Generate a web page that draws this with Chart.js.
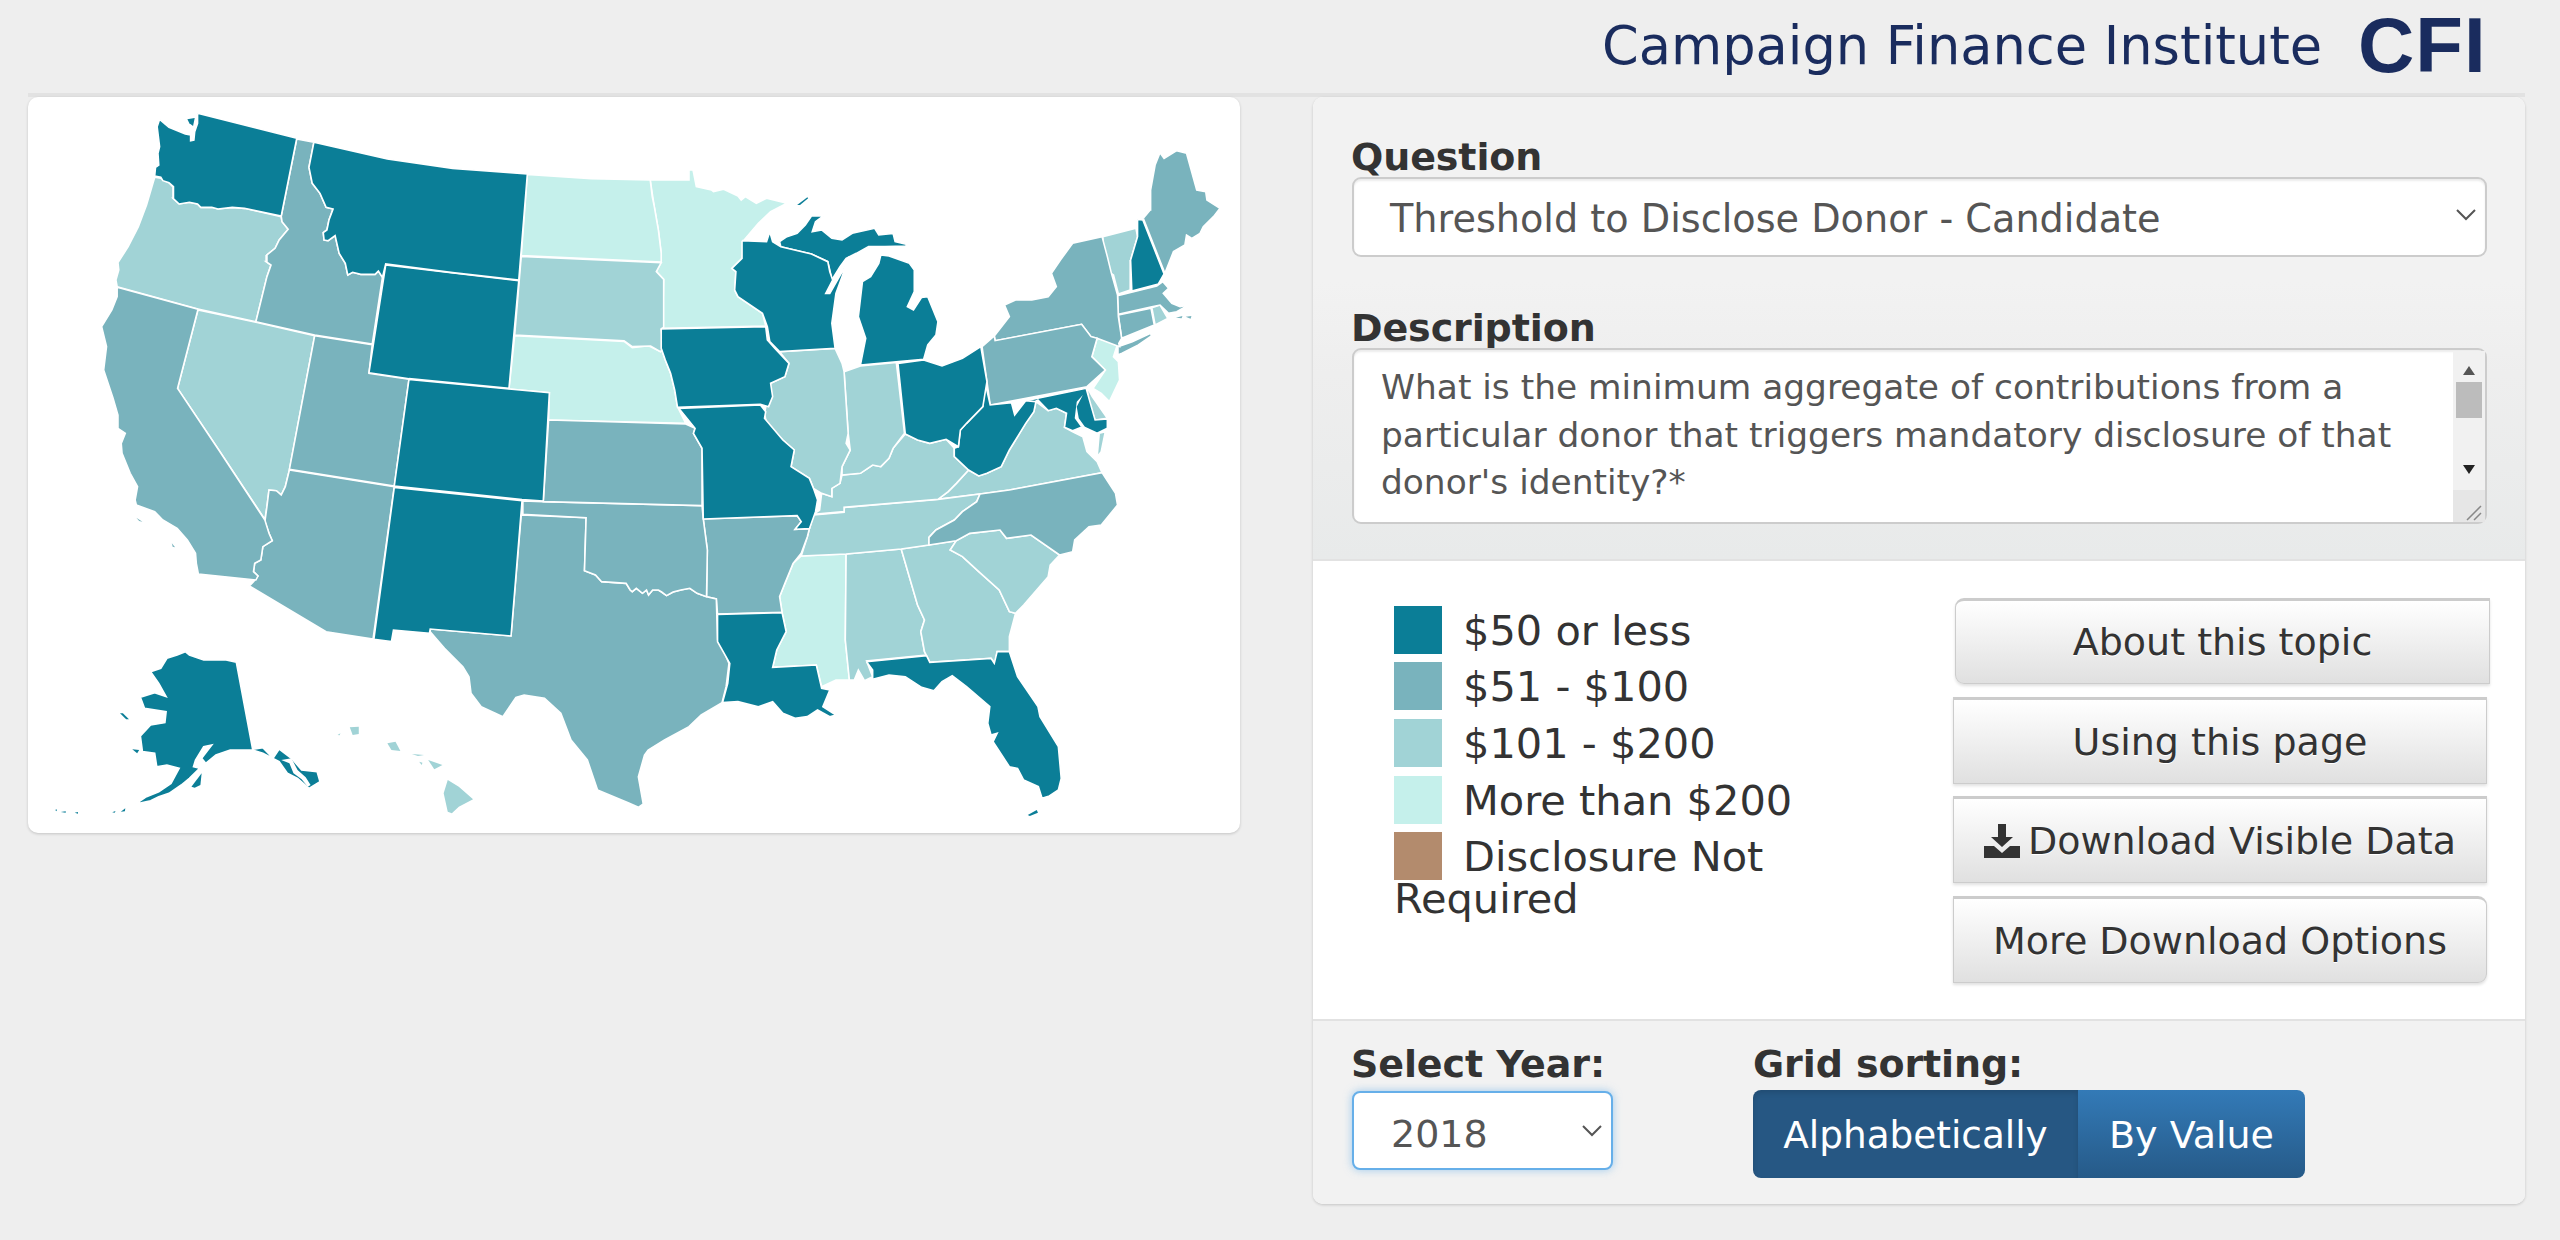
<!DOCTYPE html>
<html><head><meta charset="utf-8">
<script src="https://cdn.jsdelivr.net/npm/chart.js@4"></script>
<style>
html,body{margin:0;padding:0;background:#eee;width:2560px;height:1240px;overflow:hidden;font-family:"DejaVu Sans",sans-serif;color:#333}
.a{position:absolute;box-sizing:border-box;white-space:nowrap}
.lbl{font-weight:bold;font-size:38px;line-height:40px;color:#333;letter-spacing:-.1px}
.btn{background:linear-gradient(#fff,#e0e0e0);border:1px solid #ccc;border-top:3px solid #ccc;box-shadow:0 2px 3px rgba(0,0,0,.12);font-size:38px;color:#333;display:flex;align-items:center;justify-content:center;text-shadow:0 1px 0 #fff}
.sw{left:1394px;width:48px;height:48px}
.lg{left:1463px;font-size:41.5px;line-height:44px;color:#333}
</style></head><body>
<div class="a" style="left:28px;top:93px;width:2497px;height:4px;background:#e2e2e2"></div>
<div class="a" style="left:1602px;top:15px;font-size:52.6px;line-height:62px;color:#1a2c5e" id="title">Campaign Finance Institute</div>
<div class="a" style="left:2358px;top:3px;font-size:78px;line-height:84px;font-weight:bold;color:#1a2c5e;font-family:'Liberation Sans';letter-spacing:1px;transform-origin:0 0">CFI</div>

<div class="a" style="left:28px;top:97px;width:1212px;height:736px;background:#fff;border-radius:10px;box-shadow:0 1px 3px rgba(0,0,0,.18)">
<canvas id="map" width="1212" height="736" style="display:block;width:1212px;height:736px"></canvas></div>

<div class="a" style="left:1313px;top:97px;width:1212px;height:1107px;background:#fff;border-radius:10px;box-shadow:0 1px 3px rgba(0,0,0,.18);overflow:hidden">
<div class="a" style="left:0;top:0;width:100%;height:464px;background:linear-gradient(#f2f2f2 0,#f2f2f2 40%,#eeeeee 60%,#e8eaea 100%);border-bottom:2px solid #e2e2e2"></div>
<div class="a" style="left:0;top:922px;width:100%;height:185px;background:#f2f2f2;border-top:2px solid #e2e2e2"></div>
</div>

<div class="a lbl" style="left:1351px;top:137px">Question</div>
<div class="a" style="left:1352px;top:177px;width:1135px;height:80px;background:#fff;border:2px solid #ccc;border-radius:9px;box-shadow:inset 0 2px 2px rgba(0,0,0,.08)"></div>
<div class="a" style="left:1390px;top:199px;font-size:38.2px;line-height:40px;color:#555">Threshold to Disclose Donor - Candidate</div>
<svg class="a" style="left:2456px;top:209px" width="20" height="12"><path d="M1 1L10 10L19 1" fill="none" stroke="#555" stroke-width="2"/></svg>

<div class="a lbl" style="left:1351px;top:308px">Description</div>
<div class="a" style="left:1352px;top:348px;width:1135px;height:176px;background:#fff;border:2px solid #ccc;border-radius:9px;box-shadow:inset 0 2px 2px rgba(0,0,0,.08)"></div>
<div class="a" style="left:1381px;top:364px;font-size:34.4px;line-height:47.6px;color:#555">What is the minimum aggregate of contributions from a<br>particular donor that triggers mandatory disclosure of that<br>donor's identity?*</div>
<div class="a" style="left:2453px;top:351px;width:32px;height:139px;background:#f1f1f1"></div>
<div class="a" style="left:2456px;top:382px;width:26px;height:36px;background:#bcbcbc"></div>
<svg class="a" style="left:2453px;top:360px" width="32" height="120"><path d="M10 15L16 6L22 15Z" fill="#555"/><path d="M10 105L22 105L16 114Z" fill="#222"/></svg>
<div class="a" style="left:2453px;top:490px;width:32px;height:32px;background:#e6e6e6"></div>
<svg class="a" style="left:2465px;top:505px" width="18" height="16"><path d="M2 15L16 1M9 15L16 8" stroke="#888" stroke-width="1.5" fill="none"/></svg>

<div class="a sw" style="top:606px;background:#0b7e97"></div><div class="a lg" style="top:609px">$50 or less</div>
<div class="a sw" style="top:662px;background:#79b3bd"></div><div class="a lg" style="top:665px">$51 - $100</div>
<div class="a sw" style="top:719px;background:#a1d3d6"></div><div class="a lg" style="top:722px">$101 - $200</div>
<div class="a sw" style="top:776px;background:#c5f0eb"></div><div class="a lg" style="top:779px">More than $200</div>
<div class="a sw" style="top:832px;background:#b38b6d"></div><div class="a lg" style="top:835px">Disclosure Not</div>
<div class="a lg" style="left:1394px;top:877px">Required</div>

<div class="a btn" style="left:1955px;top:598px;width:535px;height:86px;border-radius:9px 0 0 9px">About this topic</div>
<div class="a btn" style="left:1953px;top:697px;width:534px;height:87px">Using this page</div>
<div class="a btn" style="left:1953px;top:796px;width:534px;height:87px"><svg width="36" height="34" viewBox="0 0 36 34" style="margin-right:8px"><path d="M14 0H22V13H29L18 23L7 13H14Z M0 22H10L18 29L26 22H36V34H0Z" fill="#333"/></svg>Download Visible Data</div>
<div class="a btn" style="left:1953px;top:896px;width:534px;height:87px;border-radius:0 9px 9px 0">More Download Options</div>

<div class="a lbl" style="left:1351px;top:1044px">Select Year:</div>
<div class="a lbl" style="left:1753px;top:1044px">Grid sorting:</div>
<div class="a" style="left:1352px;top:1091px;width:261px;height:79px;background:#fff;border:2px solid #66afe9;border-radius:8px;box-shadow:0 0 9px rgba(102,175,233,.6)"></div>
<div class="a" style="left:1391px;top:1114px;font-size:38px;line-height:40px;color:#555">2018</div>
<svg class="a" style="left:1582px;top:1125px" width="20" height="12"><path d="M1 1L10 10L19 1" fill="none" stroke="#555" stroke-width="2"/></svg>
<div class="a" style="left:1753px;top:1090px;width:325px;height:88px;padding-top:2px;background:#265783;border-radius:8px 0 0 8px;color:#fff;font-size:37.4px;display:flex;align-items:center;justify-content:center;box-shadow:inset 0 3px 5px rgba(0,0,0,.12)">Alphabetically</div>
<div class="a" style="left:2078px;top:1090px;width:227px;height:88px;padding-top:2px;background:linear-gradient(#337ab7,#265a88);border-radius:0 8px 8px 0;color:#fff;font-size:38px;display:flex;align-items:center;justify-content:center">By Value</div>

<script>
// Map units: polygon vertices.
const redRiver=[[1495,1500],[1500,1505],[1510,1495],[1525,1510],[1535,1500],[1540,1515],[1550,1500],[1564,1500],[1572,1506],[1584,1517],[1600,1506],[1619,1500],[1641,1495],[1659,1510],[1682,1520]];
const WA=[[435,70],[678,145],[640,378],[550,355],[520,352],[485,357],[470,352],[443,352],[435,342],[415,337],[390,342],[375,325],[376,290],[365,278],[350,272],[345,262],[330,258],[332,232],[340,225],[338,190],[342,170],[336,110],[342,88],[365,112],[405,132],[418,135],[418,152],[426,150],[428,125],[435,100]];
const WAi=[[410,88],[428,84],[424,108],[415,100]];
const OR=[[330,262],[345,265],[365,278],[376,292],[375,325],[390,342],[415,337],[435,342],[443,352],[470,352],[485,357],[520,352],[550,355],[640,380],[642,395],[657,418],[635,450],[625,475],[605,495],[603,515],[615,525],[605,560],[578,695],[436,657],[238,590],[235,570],[242,540],[240,518],[265,470],[290,410],[310,345]];
const ID=[[678,147],[720,157],[708,232],[716,280],[735,310],[750,352],[767,357],[757,390],[752,420],[743,428],[745,450],[755,452],[772,437],[782,490],[797,520],[803,555],[815,547],[835,553],[870,553],[878,543],[888,562],[863,762],[722,735],[578,695],[605,560],[615,525],[603,515],[605,495],[625,475],[635,450],[657,418],[642,395],[640,378]];
const MT=[[720,157],[900,207],[1060,235],[1243,252],[1222,570],[1060,548],[896,522],[888,562],[878,543],[870,553],[835,553],[815,547],[803,555],[797,520],[782,490],[772,437],[755,452],[745,450],[743,428],[752,420],[757,390],[767,357],[750,352],[735,310],[716,280],[708,232]];
const WY=[[896,525],[1222,572],[1198,895],[953,866],[855,848]];
const ND=[[1243,253],[1400,266],[1544,270],[1549,320],[1554,350],[1564,420],[1571,490],[1571,516],[1228,497]];
const SD=[[1228,499],[1571,518],[1559,545],[1577,568],[1577,712],[1571,716],[1576,775],[1569,785],[1545,768],[1500,770],[1480,752],[1212,735]];
const NE=[[1212,737],[1480,754],[1500,773],[1540,767],[1569,785],[1571,775],[1581,810],[1594,850],[1604,900],[1611,950],[1631,1000],[1295,990],[1297,908],[1198,897]];
const KS=[[1295,990],[1631,1002],[1654,1015],[1650,1030],[1671,1075],[1671,1247],[1282,1235]];
const CO=[[953,868],[1198,897],[1297,908],[1282,1233],[1230,1229],[917,1188]];
const UT=[[722,737],[863,764],[855,850],[953,868],[917,1188],[660,1138]];
const NV=[[436,660],[578,697],[722,737],[660,1140],[650,1190],[640,1215],[628,1202],[610,1200],[605,1250],[600,1288],[487,1080],[386,895]];
const CA=[[238,592],[436,658],[386,895],[487,1080],[600,1290],[610,1330],[618,1352],[595,1370],[590,1410],[575,1420],[572,1445],[583,1458],[578,1470],[437,1452],[432,1420],[430,1390],[410,1350],[385,1315],[350,1290],[330,1265],[285,1245],[282,1230],[288,1190],[270,1150],[250,1090],[248,1060],[258,1030],[240,1015],[240,975],[228,925],[205,840],[212,770],[200,710],[225,660],[238,620]];
const CAa=[[285,1283],[300,1295],[292,1293]];
const CAb=[[372,1360],[380,1372],[374,1370]];
const AZ=[[660,1140],[917,1190],[865,1647],[750,1625],[562,1488],[572,1475],[583,1458],[572,1445],[575,1420],[590,1410],[595,1370],[618,1352],[610,1330],[600,1295],[605,1250],[610,1200],[628,1202],[640,1215],[650,1190]];
const NM=[[917,1192],[1230,1232],[1203,1638],[1005,1617],[1003,1630],[915,1620],[910,1655],[867,1648]];
const OK=[[1232,1233],[1282,1235],[1671,1247],[1674,1287],[1684,1380],...redRiver.slice().reverse(),[1485,1480],[1425,1475],[1410,1455],[1383,1442],[1387,1283],[1230,1273]];
const TX=[[1228,1275],[1387,1283],[1383,1442],[1410,1455],[1425,1475],[1485,1480],...redRiver,[1706,1527],[1709,1650],[1720,1670],[1737,1720],[1730,1790],[1720,1838],[1669,1875],[1639,1910],[1579,1950],[1539,1980],[1530,1995],[1515,2060],[1527,2142],[1515,2152],[1490,2138],[1415,2100],[1390,2010],[1350,1950],[1325,1870],[1285,1825],[1235,1815],[1215,1822],[1205,1840],[1183,1880],[1130,1850],[1105,1810],[1100,1760],[1085,1730],[1040,1675],[1005,1625],[1005,1617],[1203,1638]];
const LA=[[1709,1573],[1867,1568],[1877,1625],[1854,1680],[1844,1732],[1951,1725],[1964,1795],[1984,1800],[1967,1850],[1999,1875],[1984,1880],[1954,1860],[1929,1880],[1899,1885],[1869,1870],[1844,1835],[1809,1850],[1759,1835],[1721,1838],[1734,1780],[1739,1720],[1709,1655]];
const AR=[[1674,1287],[1904,1277],[1914,1295],[1899,1318],[1934,1316],[1929,1340],[1914,1390],[1894,1420],[1874,1480],[1861,1520],[1867,1567],[1709,1572],[1706,1527],[1682,1520],[1684,1380]];
const MS=[[1914,1398],[2024,1392],[2022,1650],[2032,1770],[1999,1770],[1964,1790],[1951,1725],[1844,1732],[1854,1680],[1877,1625],[1867,1567],[1861,1520],[1874,1480],[1894,1420]];
const AL=[[2024,1392],[2159,1377],[2199,1545],[2216,1590],[2207,1625],[2216,1685],[2221,1695],[2074,1713],[2089,1760],[2069,1772],[2054,1740],[2044,1770],[2032,1770],[2022,1650]];
const GA=[[2159,1377],[2294,1352],[2279,1380],[2309,1400],[2349,1445],[2399,1500],[2424,1565],[2439,1570],[2424,1640],[2424,1685],[2394,1685],[2389,1720],[2379,1705],[2229,1717],[2216,1685],[2207,1625],[2216,1590],[2199,1545]];
const FL=[[2074,1715],[2221,1697],[2229,1717],[2379,1705],[2387,1720],[2394,1685],[2424,1685],[2444,1760],[2494,1850],[2499,1880],[2544,1970],[2551,2065],[2544,2100],[2522,2118],[2504,2125],[2495,2090],[2459,2070],[2444,2035],[2424,2030],[2384,1955],[2394,1930],[2379,1935],[2371,1900],[2376,1850],[2319,1790],[2284,1757],[2259,1775],[2239,1802],[2209,1792],[2169,1760],[2129,1755],[2089,1768],[2089,1740]];
const FLk=[[2469,2175],[2491,2160],[2494,2168],[2474,2178]];
const SC=[[2294,1352],[2327,1330],[2401,1320],[2417,1345],[2477,1335],[2547,1395],[2524,1425],[2519,1460],[2459,1545],[2439,1570],[2424,1565],[2399,1500],[2349,1445],[2309,1400],[2279,1380]];
const NC=[[2352,1212],[2424,1200],[2651,1148],[2684,1210],[2689,1245],[2649,1305],[2619,1310],[2584,1350],[2579,1385],[2547,1395],[2477,1335],[2417,1345],[2401,1320],[2327,1330],[2294,1352],[2227,1365],[2227,1342],[2244,1320],[2289,1290],[2309,1265],[2344,1235]];
const TN=[[1944,1275],[2019,1267],[2019,1252],[2249,1228],[2352,1212],[2344,1235],[2309,1265],[2289,1290],[2244,1320],[2227,1342],[2227,1365],[2159,1377],[2024,1392],[1914,1398],[1929,1340],[1934,1316]];
const KY=[[1944,1273],[2019,1265],[2019,1252],[2249,1228],[2274,1205],[2294,1180],[2324,1140],[2289,1100],[2289,1075],[2269,1048],[2229,1060],[2199,1050],[2169,1032],[2139,1075],[2129,1105],[2109,1130],[2089,1125],[2059,1150],[2014,1155],[2009,1180],[1989,1195],[1989,1220],[1964,1210],[1959,1260]];
const IL=[[1861,785],[1997,775],[2014,820],[2019,845],[2029,1030],[2024,1060],[2034,1080],[2014,1130],[2009,1180],[1989,1195],[1989,1220],[1964,1210],[1944,1195],[1934,1165],[1889,1130],[1897,1080],[1869,1050],[1829,1000],[1824,970],[1839,880],[1874,860],[1884,820]];
const IN=[[2019,845],[2059,828],[2147,817],[2167,1030],[2139,1075],[2129,1105],[2109,1130],[2089,1125],[2059,1150],[2014,1155],[2014,1130],[2034,1080],[2029,1030]];
const OH=[[2151,820],[2214,810],[2259,828],[2309,805],[2354,770],[2369,875],[2359,950],[2319,1000],[2304,1020],[2299,1070],[2269,1048],[2229,1060],[2199,1050],[2169,1032]];
const MIl=[[2059,825],[2214,808],[2224,765],[2244,735],[2249,695],[2224,620],[2209,622],[2189,660],[2174,650],[2191,605],[2191,540],[2179,520],[2129,498],[2109,495],[2104,520],[2084,560],[2064,575],[2054,680],[2072,745]];
const MIu=[[1861,455],[1879,440],[1904,430],[1924,405],[1939,378],[1969,377],[1949,395],[1941,425],[1964,420],[1989,445],[2014,450],[2039,430],[2094,415],[2104,435],[2139,430],[2144,455],[2171,463],[2171,468],[2119,470],[2079,470],[2049,490],[2024,505],[2009,530],[1989,570],[1974,610],[1989,570],[1984,540],[1979,515],[1939,492],[1864,470]];
const MIr=[[1904,345],[1929,322],[1931,325],[1911,345]];
const WI=[[1769,452],[1829,455],[1837,425],[1844,455],[1864,470],[1939,492],[1979,515],[1984,545],[1991,570],[1974,610],[1984,610],[2019,535],[2031,500],[2014,560],[1999,610],[1989,700],[1997,775],[1861,785],[1837,755],[1831,710],[1819,670],[1759,620],[1751,600],[1754,545],[1744,535],[1769,505]];
const MN=[[1544,270],[1639,270],[1639,240],[1649,240],[1657,290],[1694,300],[1699,305],[1724,298],[1759,318],[1767,330],[1777,320],[1804,340],[1829,325],[1879,340],[1839,365],[1809,400],[1774,450],[1769,505],[1744,535],[1754,545],[1751,600],[1759,620],[1819,670],[1827,708],[1574,715],[1577,568],[1559,545],[1571,515],[1571,490],[1564,420],[1554,350]];
const IA=[[1571,717],[1827,710],[1831,750],[1849,775],[1884,820],[1874,860],[1839,880],[1844,920],[1834,950],[1814,943],[1611,952],[1604,900],[1594,850],[1581,810],[1571,775]];
const MO=[[1614,955],[1814,945],[1827,965],[1824,985],[1869,1050],[1897,1080],[1889,1130],[1934,1165],[1944,1195],[1954,1230],[1949,1265],[1934,1316],[1899,1318],[1914,1295],[1904,1277],[1674,1287],[1671,1075],[1650,1030],[1654,1015]];
const PA=[[2357,770],[2387,738],[2389,752],[2601,703],[2624,740],[2639,745],[2626,800],[2659,840],[2614,890],[2377,945]];
const NY=[[2387,738],[2424,680],[2412,645],[2439,630],[2479,630],[2519,620],[2539,590],[2527,550],[2549,510],[2579,460],[2651,440],[2664,500],[2674,550],[2689,615],[2691,680],[2699,745],[2692,760],[2694,770],[2689,768],[2639,745],[2624,740],[2601,703],[2389,752]];
const LI=[[2689,795],[2690,770],[2725,755],[2770,730],[2772,738],[2740,765],[2700,790]];
const NJ=[[2639,745],[2689,762],[2679,800],[2691,815],[2694,870],[2669,935],[2649,910],[2629,895],[2659,840],[2626,800]];
const DE=[[2614,890],[2627,920],[2664,985],[2634,990],[2619,940]];
const MD=[[2464,932],[2612,895],[2634,990],[2664,987],[2664,1015],[2639,1030],[2604,1010],[2579,1022],[2559,1012],[2564,970],[2539,955],[2519,962],[2494,930],[2479,940]];
const WV=[[2364,875],[2377,945],[2429,938],[2437,975],[2464,932],[2489,935],[2484,965],[2464,1000],[2449,1030],[2424,1080],[2404,1130],[2369,1150],[2349,1158],[2324,1140],[2289,1100],[2289,1075],[2299,1070],[2304,1020],[2319,1000],[2359,950]];
const VA=[[2249,1228],[2274,1205],[2294,1180],[2324,1140],[2349,1158],[2369,1150],[2404,1130],[2424,1080],[2449,1030],[2464,1000],[2484,965],[2489,935],[2519,962],[2539,955],[2564,970],[2559,1012],[2579,1025],[2604,1040],[2614,1085],[2639,1115],[2651,1148],[2424,1200],[2352,1212]];
const VAe=[[2644,1030],[2659,1025],[2649,1085],[2639,1100]];
const CT=[[2691,675],[2771,655],[2779,705],[2699,745]];
const RI=[[2773,653],[2793,645],[2812,685],[2781,705]];
const MA=[[2689,617],[2785,588],[2800,575],[2814,595],[2801,610],[2822,640],[2842,650],[2863,645],[2834,665],[2814,670],[2793,645],[2773,650],[2691,673]];
const MAn=[[2832,683],[2848,678],[2846,685]];
const MAm=[[2856,680],[2870,678],[2868,686]];
const VT=[[2653,440],[2734,415],[2738,440],[2721,510],[2720,600],[2691,612],[2679,555],[2666,545],[2654,470]];
const NH=[[2738,388],[2751,390],[2803,552],[2789,582],[2724,603],[2721,510],[2738,440]];
const ME=[[2752,385],[2769,360],[2770,300],[2781,225],[2793,188],[2803,205],[2834,182],[2858,190],[2883,300],[2905,305],[2908,330],[2940,355],[2924,380],[2899,410],[2891,430],[2871,445],[2858,435],[2854,465],[2826,485],[2805,550]];
const AK=[[405,1685],[415,1695],[450,1710],[505,1710],[530,1717],[570,1978],[595,1973],[620,2005],[635,1977],[665,2005],[690,2040],[728,2045],[735,2075],[708,2095],[680,2065],[655,2050],[635,2015],[595,1990],[570,1980],[515,1980],[480,1995],[455,2020],[445,2005],[470,1965],[450,1970],[430,2010],[425,2030],[440,2035],[415,2065],[395,2085],[365,2110],[340,2120],[320,2132],[283,2142],[310,2120],[340,2105],[370,2080],[390,2035],[360,2025],[335,2030],[330,1990],[300,1985],[295,1938],[320,1905],[355,1898],[358,1865],[305,1855],[295,1822],[330,1808],[358,1820],[340,1780],[320,1745],[345,1735],[360,1705],[385,1695]];
const AKk=[[420,2090],[445,2050],[442,2085],[428,2093]];
const AKl=[[245,1870],[252,1870],[267,1888],[260,1888]];
const AKn=[[275,1978],[292,1980],[287,1990]];
const AKa=[[247,2165],[258,2155],[257,2164]];
const AKb=[[226,2167],[234,2163],[232,2168]];
const AKc=[[100,2166],[112,2164],[112,2168]];
const AKd=[[134,2168],[142,2166],[142,2171]];
const AKe=[[86,2160],[90,2158],[90,2164]];
const HIb=[[1048,2070],[1075,2090],[1110,2128],[1075,2150],[1058,2170],[1048,2165],[1038,2110]];
const HIm=[[1000,2010],[1035,2025],[1015,2038]];
const HIo=[[900,1960],[920,1955],[932,1983],[910,1980]];
const HIk=[[808,1912],[830,1910],[830,1932],[815,1935]];
const HIl=[[960,1992],[990,1995],[975,1998]];
const HIn=[[778,1935],[785,1930],[783,1936]];
const HIt=[[978,2015],[986,2018],[984,2025]];
const bay=[[2604,915],[2589,950],[2594,985],[2609,1010],[2599,1010],[2584,985],[2589,935]];
const sound=[[640,2010],[665,2005],[680,2040],[700,2062],[712,2085],[705,2090],[690,2068],[670,2050],[660,2020]];

const bandColors=['#0b7e97','#79b3bd','#a1d3d6','#c5f0eb','#ffffff'];
const band0=[WA,MT,WY,CO,NM,IA,MO,WI,MIl,MIu,OH,WV,MD,LA,FL,AK,NH];
const band1=[ID,CA,UT,AZ,KS,OK,TX,AR,NC,PA,NY,LI,ME,MA,CT];
const band2=[OR,NV,SD,IL,IN,KY,TN,VA,VAe,SC,GA,AL,VT,RI,DE];
const band3=[ND,MN,NE,MS,NJ];
const small0=[WAi,FLk,MIr,AKk,AKl,AKn,AKa,AKb,AKc,AKd,AKe];
const small1=[CAa,CAb,MAn,MAm];
const small2=[HIb,HIm,HIo,HIk,HIl,HIn,HIt];
const water=[bay,sound];

const toDs=(poly,color,width)=>({data:poly.concat([poly[0]]).map(p=>({x:p[0],y:p[1]})),showLine:true,fill:'shape',backgroundColor:color,borderColor:'#ffffff',borderWidth:width,pointRadius:0,tension:0});
const datasets=[];
water.forEach(p=>datasets.push(toDs(p,bandColors[4],0)));
[small0,small1,small2].forEach((b,i)=>b.forEach(p=>datasets.push(toDs(p,bandColors[i],0))));
[band0,band1,band2,band3].forEach((b,i)=>b.forEach(p=>datasets.push(toDs(p,bandColors[i],1.6))));
new Chart(document.getElementById('map'),{type:'scatter',data:{datasets},options:{
 responsive:false,animation:false,devicePixelRatio:1,layout:{padding:0},
 plugins:{legend:{display:false},tooltip:{enabled:false},title:{display:false}},
 scales:{x:{type:'linear',display:false,min:19.6,max:2989},y:{type:'linear',display:false,reverse:true,min:21,max:2229}}
}});
</script>
</body></html>
